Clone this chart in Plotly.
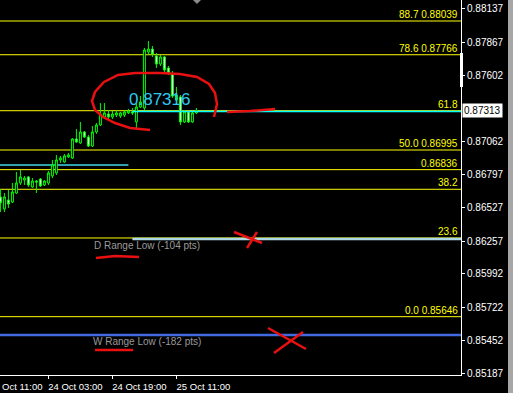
import plotly.graph_objects as go
import pandas as pd

# ---------------- data ----------------
start_time = "2023-10-23 15:00"
opens = [0.86615, 0.86518, 0.86590, 0.86574, 0.86647, 0.86728, 0.86752, 0.86777, 0.86696, 0.86744,
         0.86760, 0.86712, 0.86728, 0.86785, 0.86809, 0.86914, 0.86898, 0.86939, 0.86930, 0.87084,
         0.87052, 0.87141, 0.87100, 0.87027, 0.87141, 0.87197, 0.87262, 0.87286, 0.87262, 0.87278,
         0.87270, 0.87278, 0.87295, 0.87303, 0.87222, 0.87343, 0.87335, 0.87788, 0.87812, 0.87756,
         0.87691, 0.87748, 0.87659, 0.87610, 0.87400, 0.87424, 0.87222, 0.87303, 0.87222, 0.87295]
highs = [0.86679, 0.86647, 0.86671, 0.86728, 0.86817, 0.86833, 0.86785, 0.86785, 0.86768, 0.86752,
         0.86768, 0.86752, 0.86825, 0.86914, 0.86955, 0.86947, 0.86963, 0.86971, 0.87092, 0.87165,
         0.87222, 0.87149, 0.87116, 0.87189, 0.87214, 0.87375, 0.87375, 0.87319, 0.87311, 0.87319,
         0.87303, 0.87319, 0.87327, 0.87335, 0.87375, 0.87432, 0.87821, 0.87877, 0.87837, 0.87780,
         0.87764, 0.87756, 0.87675, 0.87634, 0.87505, 0.87440, 0.87319, 0.87311, 0.87303, 0.87335]
lows = [0.86493, 0.86493, 0.86526, 0.86566, 0.86640, 0.86712, 0.86712, 0.86696, 0.86688, 0.86647,
        0.86696, 0.86704, 0.86712, 0.86768, 0.86793, 0.86890, 0.86890, 0.86930, 0.86922, 0.87052,
        0.87044, 0.87092, 0.87019, 0.87019, 0.87125, 0.87189, 0.87246, 0.87246, 0.87246, 0.87262,
        0.87254, 0.87262, 0.87286, 0.87278, 0.87165, 0.87335, 0.87319, 0.87764, 0.87748, 0.87659,
        0.87675, 0.87626, 0.87602, 0.87416, 0.87392, 0.87197, 0.87214, 0.87214, 0.87214, 0.87286]
closes = [0.86566, 0.86615, 0.86558, 0.86655, 0.86728, 0.86777, 0.86768, 0.86712, 0.86744, 0.86736,
          0.86704, 0.86744, 0.86809, 0.86874, 0.86914, 0.86930, 0.86947, 0.86955, 0.87084, 0.87060,
          0.87141, 0.87100, 0.87027, 0.87141, 0.87197, 0.87286, 0.87295, 0.87262, 0.87286, 0.87295,
          0.87295, 0.87303, 0.87311, 0.87295, 0.87343, 0.87384, 0.87804, 0.87812, 0.87772, 0.87691,
          0.87748, 0.87643, 0.87618, 0.87432, 0.87440, 0.87222, 0.87303, 0.87222, 0.87295, 0.87316]

fib_levels = [0.88039, 0.87766, 0.87313, 0.86995, 0.86836, 0.86677, 0.86283, 0.85646]
fib_labels = ["88.7 0.88039", "78.6 0.87766", "61.8", "50.0 0.86995", "0.86836", "38.2", "23.6", "0.0 0.85646"]

y_ticks = [0.88137, 0.87867, 0.87602, 0.87062, 0.86797, 0.86527, 0.86257, 0.85992, 0.85722, 0.85452, 0.85187]
y_ticktext = ["0.88137", "0.87867", "0.87602", "0.87062", "0.86797", "0.86527", "0.86257", "0.85992",
              "0.85722", "0.85452", "0.85187"]
x_ticks = ["2023-10-24 03:00", "2023-10-24 19:00", "2023-10-25 11:00"]
x_ticktext = ["24 Oct 03:00", "24 Oct 19:00", "25 Oct 11:00"]

current_price = 0.87313
current_label = "0.87313"
bid_text = "0.87316"
d_range_low = 0.86275
d_range_text = "D Range Low (-104 pts)"
d_range_start = "2023-10-25 00:00"
w_range_low = 0.85498
w_range_text = "W Range Low (-182 pts)"
bid_line = 0.87306
bid_line_start = "2023-10-25 00:00"
prev_line = 0.86874
prev_line_end = "2023-10-24 23:00"
x_range = ["2023-10-23 14:54", "2023-10-28 10:09"]
y_range = [0.85174, 0.88209]

times = pd.date_range(start_time, periods=len(opens), freq="h")

# ---------------- layout helpers ----------------
W, H = 513, 393
ML, MR, MT, MB = 0, 52, 0, 18
PW, PH = W - ML - MR, H - MT - MB


def px(x):
    return x / PW


def py(y):
    return 1 - y / PH


def ppath(pts):
    return "M " + " L ".join(f"{px(a):.5f},{py(b):.5f}" for a, b in pts)


FONT = "Liberation Sans, Arial, sans-serif"

fig = go.Figure()
fig.add_trace(go.Candlestick(
    x=times, open=opens, high=highs, low=lows, close=closes,
    increasing=dict(line=dict(color="#00ff00", width=1), fillcolor="#000000"),
    decreasing=dict(line=dict(color="#00ff00", width=1), fillcolor="#ffffff"),
    whiskerwidth=0, showlegend=False, hoverinfo="skip",
))

shapes = []
annotations = []

# fib lines + labels
for lvl, lab in zip(fib_levels, fib_labels):
    shapes.append(dict(type="line", xref="paper", yref="y", x0=0, x1=1, y0=lvl, y1=lvl,
                       line=dict(color="#ffff00", width=1), layer="below"))
    annotations.append(dict(xref="paper", yref="y", x=px(460), y=lvl, text=lab, showarrow=False,
                            xanchor="right", yanchor="bottom", yshift=-1,
                            font=dict(family=FONT, size=10, color="#ffff00")))

# cyan bid line
shapes.append(dict(type="line", xref="x", yref="y", x0=bid_line_start, x1=x_range[1], y0=bid_line, y1=bid_line,
                   line=dict(color="#00ffff", width=1.5)))
# short cyan line on left
shapes.append(dict(type="line", xref="x", yref="y", x0=x_range[0], x1=prev_line_end, y0=prev_line, y1=prev_line,
                   line=dict(color="#40d8e8", width=1.5), layer="below"))
# D range low
shapes.append(dict(type="line", xref="x", yref="y", x0=d_range_start, x1=x_range[1], y0=d_range_low, y1=d_range_low,
                   line=dict(color="#add8e6", width=2.5)))
# W range low
shapes.append(dict(type="line", xref="paper", yref="y", x0=0, x1=1, y0=w_range_low, y1=w_range_low,
                   line=dict(color="#4169e1", width=2.5)))

annotations.append(dict(xref="paper", yref="y", x=px(92), y=d_range_low, yshift=-7, text=d_range_text,
                        showarrow=False, xanchor="left", yanchor="middle",
                        font=dict(family=FONT, size=10, color="#9a9a9a")))
annotations.append(dict(xref="paper", yref="y", x=px(91), y=w_range_low, yshift=-7, text=w_range_text,
                        showarrow=False, xanchor="left", yanchor="middle",
                        font=dict(family=FONT, size=10, color="#9a9a9a")))

# big cyan price text
annotations.append(dict(xref="paper", yref="paper", x=px(127), y=py(100), text=bid_text, showarrow=False,
                        xanchor="left", yanchor="middle",
                        font=dict(family=FONT, size=17, color="#2ec8f0")))

# current price box on axis
annotations.append(dict(xref="paper", yref="y", x=1, xshift=1, y=current_price, text=current_label,
                        showarrow=False, xanchor="left", yanchor="middle", bgcolor="#ffffff",
                        borderpad=1, font=dict(family=FONT, size=10, color="#000000")))

# cut-off first time label
annotations.append(dict(xref="paper", yref="paper", x=0, y=0, yshift=-4, text="Oct 11:00", showarrow=False,
                        xanchor="left", yanchor="top", font=dict(family=FONT, size=9.5, color="#ffffff")))

# red hand-drawn marks
red = dict(color="#e81010", width=2.5)
doodles = [
    [(214, 117), (217, 104), (215, 93), (209, 84), (197, 77), (180, 74), (160, 73), (135, 73),
     (118, 75), (104, 82), (95, 92), (92, 101), (95, 110), (103, 117), (115, 123), (130, 128), (150, 130)],
    [(227, 112), (250, 111), (275, 109)],
    [(234, 232), (262, 243)],
    [(257, 232), (247, 248)],
    [(96, 258), (115, 256), (139, 257)],
    [(268, 328), (306, 349)],
    [(303, 332), (274, 353)],
    [(95, 350), (133, 350)],
]
for pts in doodles:
    shapes.append(dict(type="path", xref="paper", yref="paper", path=ppath(pts), line=red))

# shift marker triangle at top
shapes.append(dict(type="path", xref="paper", yref="paper",
                   path=ppath([(193, 0), (201, 0), (197, 4)]) + " Z",
                   fillcolor="#8a8a8a", line=dict(width=0)))
# white bar on axis
shapes.append(dict(type="rect", xref="paper", yref="paper", x0=px(460), x1=px(463), y0=py(87), y1=py(53),
                   fillcolor="#ffffff", line=dict(width=0)))
# right gray strip
shapes.append(dict(type="rect", xref="paper", yref="paper", x0=px(508), x1=px(514), y0=py(H), y1=py(0),
                   fillcolor="#a6a6a6", line=dict(width=0)))

fig.update_layout(
    width=W, height=H, margin=dict(l=ML, r=MR, t=MT, b=MB, pad=0),
    paper_bgcolor="#000000", plot_bgcolor="#000000",
    showlegend=False, shapes=shapes, annotations=annotations,
    font=dict(family=FONT, size=10, color="#ffffff"),
    xaxis=dict(type="date", range=x_range, rangeslider=dict(visible=False), showgrid=False, zeroline=False,
               tickvals=x_ticks, ticktext=x_ticktext, ticks="outside", ticklen=3, tickcolor="#ffffff",
               showline=True, linecolor="#ffffff", linewidth=1, ticklabelshift=27,
               tickfont=dict(family=FONT, size=9.5, color="#ffffff")),
    yaxis=dict(side="right", range=y_range, showgrid=False, zeroline=False, tickvals=y_ticks, ticktext=y_ticktext,
               ticks="outside", ticklen=3, tickcolor="#ffffff", showline=True, linecolor="#ffffff", linewidth=1,
               tickfont=dict(family=FONT, size=10, color="#ffffff")),
)

fig.write_html("out.html")
